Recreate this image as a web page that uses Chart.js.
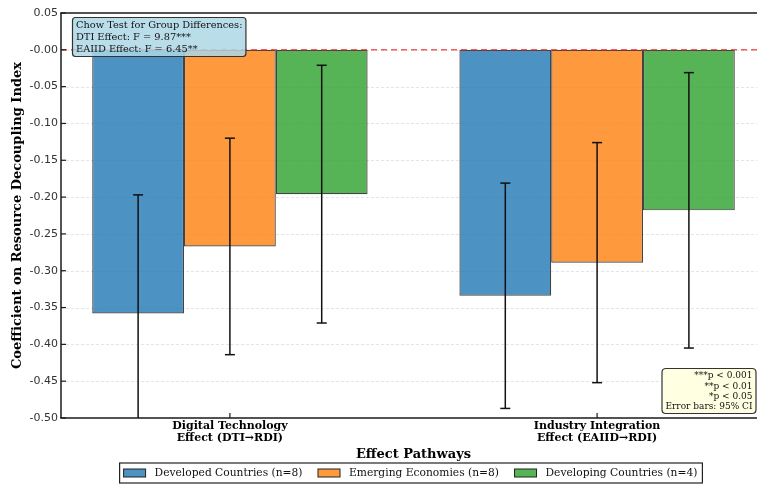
<!DOCTYPE html>
<html><head><meta charset="utf-8">
<script src="https://cdn.jsdelivr.net/npm/chart.js@4.4.0/dist/chart.umd.min.js"></script>
<style>
html,body{margin:0;padding:0;background:#fff;overflow:hidden;width:757px;height:484px;}
#wrap{width:766px;height:484px;}
canvas{display:block;}
</style></head><body>
<div id="wrap"><canvas id="c" width="766" height="484"></canvas></div>
<script>
// ---- data ----
const categories = [['Digital Technology','Effect (DTI\u2192RDI)'],['Industry Integration','Effect (EAIID\u2192RDI)']];
const seriesNames = ['Developed Countries (n=8)','Emerging Economies (n=8)','Developing Countries (n=4)'];
const developed = [-0.358, -0.334];
const emerging = [-0.267, -0.289];
const developing = [-0.196, -0.218];
const developedLow = [-0.519, -0.487];
const developedHigh = [-0.197, -0.181];
const emergingLow = [-0.414, -0.452];
const emergingHigh = [-0.120, -0.126];
const developingLow = [-0.371, -0.405];
const developingHigh = [-0.021, -0.031];
const yTickValues = [0.05, 0, -0.05, -0.1, -0.15, -0.2, -0.25, -0.3, -0.35, -0.4, -0.45, -0.5];
const yTickLabels = ['0.05','-0.00','-0.05','-0.10','-0.15','-0.20','-0.25','-0.30','-0.35','-0.40','-0.45','-0.50'];
const chowLines = ['Chow Test for Group Differences:','DTI Effect: F = 9.87***','EAIID Effect: F = 6.45**'];
const noteLines = ['***p < 0.001','**p < 0.01','*p < 0.05','Error bars: 95% CI'];
const xTitle = 'Effect Pathways';
const yTitle = 'Coefficient on Resource Decoupling Index';

const colors = ['rgba(31,119,180,0.8)','rgba(255,127,14,0.8)','rgba(44,160,44,0.8)'];
const values = [developed, emerging, developing];
const lows = [developedLow, emergingLow, developingLow];
const highs = [developedHigh, emergingHigh, developingHigh];

function rrect(ctx, x, y, w, h, r){
  ctx.beginPath();
  ctx.moveTo(x+r, y);
  ctx.lineTo(x+w-r, y); ctx.quadraticCurveTo(x+w, y, x+w, y+r);
  ctx.lineTo(x+w, y+h-r); ctx.quadraticCurveTo(x+w, y+h, x+w-r, y+h);
  ctx.lineTo(x+r, y+h); ctx.quadraticCurveTo(x, y+h, x, y+h-r);
  ctx.lineTo(x, y+r); ctx.quadraticCurveTo(x, y, x+r, y);
  ctx.closePath();
}
function line(ctx, x1, y1, x2, y2){ ctx.beginPath(); ctx.moveTo(x1,y1); ctx.lineTo(x2,y2); ctx.stroke(); }

const decor = {
  id: 'decor',
  beforeDatasetsDraw(chart){
    const {ctx, chartArea: a, scales: {y}} = chart;
    ctx.save();
    ctx.strokeStyle = 'rgba(0,0,0,0.13)';
    ctx.lineWidth = 0.8;
    ctx.setLineDash([3,2]);
    yTickValues.forEach(v => {
      const py = Math.round(y.getPixelForValue(v)) + 0.5;
      if (py <= a.top + 2 || py >= a.bottom - 2) return;
      line(ctx, a.left, py, a.right, py);
    });
    ctx.restore();
  },
  afterDatasetsDraw(chart){
    const {ctx, chartArea: a, scales: {x, y}} = chart;
    // error bars
    ctx.save();
    ctx.beginPath(); ctx.rect(a.left, a.top, a.right - a.left, a.bottom - a.top); ctx.clip();
    ctx.strokeStyle = '#111'; ctx.lineWidth = 1.5;
    chart.data.datasets.forEach((ds, i) => {
      const meta = chart.getDatasetMeta(i);
      meta.data.forEach((bar, j) => {
        const px = bar.x;
        const yl = y.getPixelForValue(ds.lo[j]);
        const yh = y.getPixelForValue(ds.hi[j]);
        line(ctx, px, yl, px, yh);
        line(ctx, px - 5, yl, px + 5, yl);
        line(ctx, px - 5, yh, px + 5, yh);
      });
    });
    ctx.restore();
    // zero line
    ctx.save();
    ctx.strokeStyle = 'rgba(235,40,40,0.75)'; ctx.lineWidth = 1.5; ctx.setLineDash([6,4]);
    const pz = y.getPixelForValue(0);
    line(ctx, a.left, pz, a.right, pz);
    ctx.restore();
    // spines
    ctx.save();
    ctx.strokeStyle = '#1a1a1a'; ctx.lineWidth = 1.5;
    line(ctx, a.left, a.top, a.left, a.bottom);
    line(ctx, a.left - 0.75, a.top, a.right, a.top);
    line(ctx, a.left - 0.75, a.bottom, a.right, a.bottom);
    line(ctx, a.right, a.top, a.right, a.bottom);
    ctx.lineWidth = 1.2;
    yTickValues.forEach(v => { const py = y.getPixelForValue(v); line(ctx, a.left, py, a.left + 5, py); });
    categories.forEach((c, i) => { const px = x.getPixelForValue(i); line(ctx, px, a.bottom, px, a.bottom - 5); });
    ctx.restore();
    // Chow test box
    ctx.save();
    ctx.font = '9.8px "DejaVu Serif"';
    let mw = Math.max(...chowLines.map(t => ctx.measureText(t).width));
    const b1x = a.left + 11.5, b1y = a.top + 4.5, lh1 = 12;
    const b1w = mw + 7, b1h = chowLines.length * lh1 + 3;
    rrect(ctx, b1x, b1y, b1w, b1h, 3);
    ctx.fillStyle = 'rgba(173,216,230,0.85)'; ctx.fill();
    ctx.strokeStyle = '#333'; ctx.lineWidth = 1.2; ctx.stroke();
    ctx.fillStyle = '#111'; ctx.textBaseline = 'middle'; ctx.textAlign = 'left';
    chowLines.forEach((t, i) => ctx.fillText(t, b1x + 3.5, b1y + 1.5 + lh1 / 2 + i * lh1 + 0.5));
    ctx.restore();
    // significance note box
    ctx.save();
    ctx.font = '9px "DejaVu Serif"';
    mw = Math.max(...noteLines.map(t => ctx.measureText(t).width));
    const lh2 = 10.4;
    const b2w = mw + 7, b2h = noteLines.length * lh2 + 3.4;
    const b2r = a.right - 10, b2b = a.bottom - 4.5;
    const b2x = b2r - b2w, b2y = b2b - b2h;
    rrect(ctx, b2x, b2y, b2w, b2h, 4);
    ctx.fillStyle = 'rgba(255,255,224,0.92)'; ctx.fill();
    ctx.strokeStyle = '#333'; ctx.lineWidth = 1.2; ctx.stroke();
    ctx.fillStyle = '#111'; ctx.textBaseline = 'middle'; ctx.textAlign = 'right';
    noteLines.forEach((t, i) => ctx.fillText(t, b2r - 3.5, b2y + 1.7 + lh2 / 2 + i * lh2 + 0.5));
    ctx.restore();
  },
  afterDraw(chart){
    const {ctx, chartArea: a} = chart;
    ctx.save();
    ctx.font = '10.7px "DejaVu Serif"';
    const sw = 22, sh = 8, gap = 9, between = 15.5, padL = 4, padR = 5;
    const items = chart.data.datasets.map(ds => ({text: ds.label, color: ds.backgroundColor, w: ctx.measureText(ds.label).width}));
    let total = padL + padR + between * (items.length - 1);
    items.forEach(it => total += sw + gap + it.w);
    const cx = (a.left + a.right) / 2 - 2.5;
    const lx = cx - total / 2, ly = 463, lhgt = 20;
    ctx.fillStyle = '#fff';
    ctx.fillRect(lx, ly, total, lhgt);
    ctx.strokeStyle = '#222'; ctx.lineWidth = 1.2;
    ctx.strokeRect(lx, ly, total, lhgt);
    let px = lx + padL;
    const cy = ly + lhgt / 2;
    ctx.textBaseline = 'middle'; ctx.textAlign = 'left';
    items.forEach(it => {
      ctx.fillStyle = it.color; ctx.fillRect(px, cy - sh / 2, sw, sh);
      ctx.strokeStyle = '#222'; ctx.lineWidth = 1; ctx.strokeRect(px, cy - sh / 2, sw, sh);
      ctx.fillStyle = '#111'; ctx.fillText(it.text, px + sw + gap, cy + 0.5);
      px += sw + gap + it.w + between;
    });
    ctx.restore();
  }
};

new Chart(document.getElementById('c'), {
  type: 'bar',
  data: {
    datasets: values.map((vals, i) => ({
      label: seriesNames[i],
      data: vals.map((v, j) => ({x: j, y: v})),
      backgroundColor: colors[i],
      borderColor: 'rgba(20,20,20,0.8)',
      borderWidth: 1.2,
      borderSkipped: false,
      categoryPercentage: 0.75,
      barPercentage: 1.0,
      lo: lows[i],
      hi: highs[i]
    }))
  },
  options: {
    responsive: false,
    animation: false,
    layout: {padding: {top: 13, right: 0, bottom: 22, left: 0}},
    plugins: {legend: {display: false}, tooltip: {enabled: false}},
    scales: {
      x: {
        type: 'linear', min: -0.46, max: 1.46, offset: false,
        afterBuildTicks: s => { s.ticks = categories.map((c, i) => ({value: i})); },
        afterFit: s => { s.height = 44; },
        grid: {display: false, drawTicks: false, offset: false},
        border: {display: false},
        ticks: {
          autoSkip: false, maxRotation: 0, padding: 2, color: '#000',
          font: {family: 'DejaVu Serif', size: 11, weight: 'bold', lineHeight: 1.12},
          callback: v => categories[Math.round(v)] || ''
        },
        title: {display: true, text: xTitle, color: '#000', padding: {top: 0, bottom: 0},
          font: {family: 'DejaVu Serif', size: 13, weight: 'bold'}}
      },
      y: {
        type: 'linear', min: -0.5, max: 0.05,
        afterBuildTicks: s => { s.ticks = yTickValues.map(v => ({value: v})); },
        afterFit: s => { s.width = 61; },
        grid: {display: false, drawTicks: false},
        border: {display: false},
        ticks: {
          autoSkip: false, padding: 3, color: '#333',
          font: {family: 'DejaVu Sans', size: 11},
          callback: v => { const k = yTickValues.findIndex(t => Math.abs(t - v) < 1e-9); return k >= 0 ? yTickLabels[k] : ''; }
        },
        title: {display: true, text: yTitle, color: '#000', padding: {top: 10, bottom: 0},
          font: {family: 'DejaVu Serif', size: 13, weight: 'bold'}}
      }
    }
  },
  plugins: [decor]
});
</script>
</body></html>
